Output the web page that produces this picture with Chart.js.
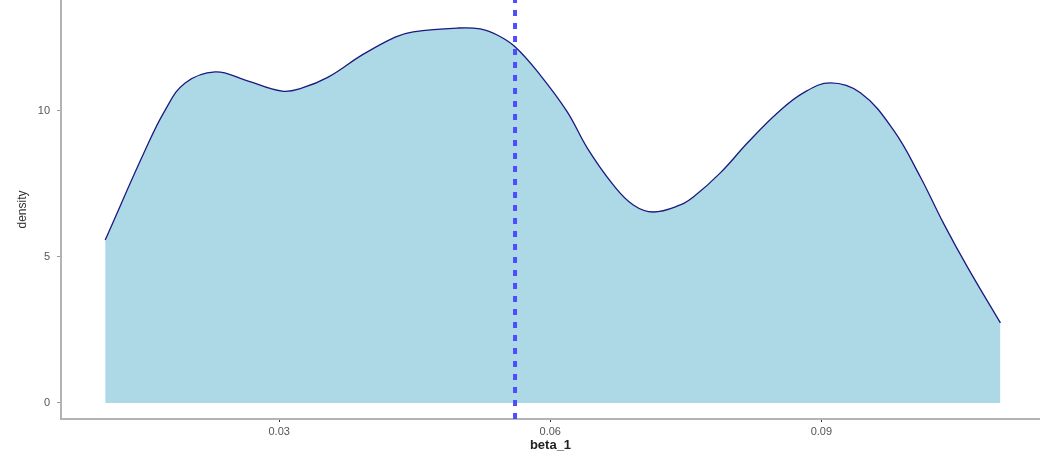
<!DOCTYPE html>
<html>
<head>
<meta charset="utf-8">
<script src="https://cdn.jsdelivr.net/npm/chart.js@4/dist/chart.umd.min.js"></script>
<style>
  html, body { margin: 0; padding: 0; background: #fff; }
  #wrap { width: 1040px; height: 459px; position: relative; }
</style>
</head>
<body>
<div id="wrap"><canvas id="densityChart"></canvas></div>
<script>
// beta_1 values along the curve and the density read at each
const betaValues = [0.01074, 0.01517, 0.01738, 0.01959, 0.02292, 0.02624, 0.03033, 0.03255,
  0.03542, 0.03919, 0.04284, 0.04483, 0.04970, 0.05225, 0.05413, 0.05613, 0.05889, 0.06188,
  0.06410, 0.06697, 0.06919, 0.07140, 0.07439, 0.07583, 0.07882, 0.08181, 0.08513, 0.08801,
  0.09100, 0.09432, 0.09797, 0.10096, 0.10351, 0.10616, 0.10982];
const densityValues = [5.58, 8.66, 10.03, 10.96, 11.34, 11.06, 10.68, 10.79,
  11.16, 11.92, 12.53, 12.71, 12.84, 12.81, 12.60, 12.19, 11.23, 9.97,
  8.73, 7.47, 6.78, 6.54, 6.78, 7.05, 7.88, 8.90, 9.93, 10.62,
  10.96, 10.62, 9.35, 7.74, 6.16, 4.66, 2.74];
const meanBeta = 0.0561;
const xTicks = [0.03, 0.06, 0.09];
const yTicks = [0, 5, 10];
const xRange = [0.00585, 0.1142];
const yRange = [-0.55, 13.8];

const curve = betaValues.map((b, i) => ({ x: b, y: densityValues[i] }));
const meanLine = [{ x: meanBeta, y: yRange[0] }, { x: meanBeta, y: yRange[1] }];

const ctx = document.getElementById('densityChart').getContext('2d');
const chart = new Chart(ctx, {
  type: 'line',
  data: {
    datasets: [
      {
        label: 'density',
        data: curve,
        borderColor: '#1a1a80',
        borderWidth: 1.3,
        backgroundColor: '#add8e6',
        fill: 'origin',
        pointRadius: 0,
        tension: 0.4,
        order: 2
      },
      {
        label: 'mean',
        data: meanLine,
        borderColor: '#4d4dff',
        borderWidth: 4,
        borderDash: [6, 7],
        pointRadius: 0,
        fill: false,
        order: 1
      }
    ]
  },
  options: {
    responsive: true,
    maintainAspectRatio: false,
    animation: false,
    layout: { padding: 0 },
    plugins: {
      legend: { display: false },
      tooltip: { enabled: false }
    },
    scales: {
      x: {
        type: 'linear',
        min: xRange[0],
        max: xRange[1],
        afterBuildTicks: (axis) => { axis.ticks = xTicks.map(v => ({ value: v })); },
        afterFit: (axis) => { axis.height = 40; axis.paddingLeft = 0; axis.paddingRight = 0; },
        ticks: {
          callback: (v) => v.toFixed(2),
          color: '#555',
          font: { family: 'Liberation Sans', size: 11 },
          padding: 3,
          maxRotation: 0
        },
        grid: { display: true, drawOnChartArea: false, drawTicks: true, tickLength: 3, color: '#333' },
        border: { display: true, color: '#b3b3b3', width: 2 },
        title: {
          display: true,
          text: 'beta_1',
          color: '#222',
          font: { family: 'Liberation Sans', size: 13, weight: 'bold' },
          padding: { top: 0, bottom: 6 }
        }
      },
      y: {
        type: 'linear',
        min: yRange[0],
        max: yRange[1],
        afterBuildTicks: (axis) => { axis.ticks = yTicks.map(v => ({ value: v })); },
        afterFit: (axis) => { axis.width = 61; axis.paddingTop = 0; axis.paddingBottom = 0; },
        ticks: {
          color: '#555',
          font: { family: 'Liberation Sans', size: 11 },
          padding: 7
        },
        grid: { display: true, drawOnChartArea: false, drawTicks: true, tickLength: 4, color: '#999' },
        border: { display: true, color: '#b3b3b3', width: 2 },
        title: {
          display: true,
          text: 'density',
          color: '#333',
          font: { family: 'Liberation Sans', size: 12 },
          padding: { top: 15, bottom: 6 }
        }
      }
    }
  }
});
</script>
</body>
</html>
